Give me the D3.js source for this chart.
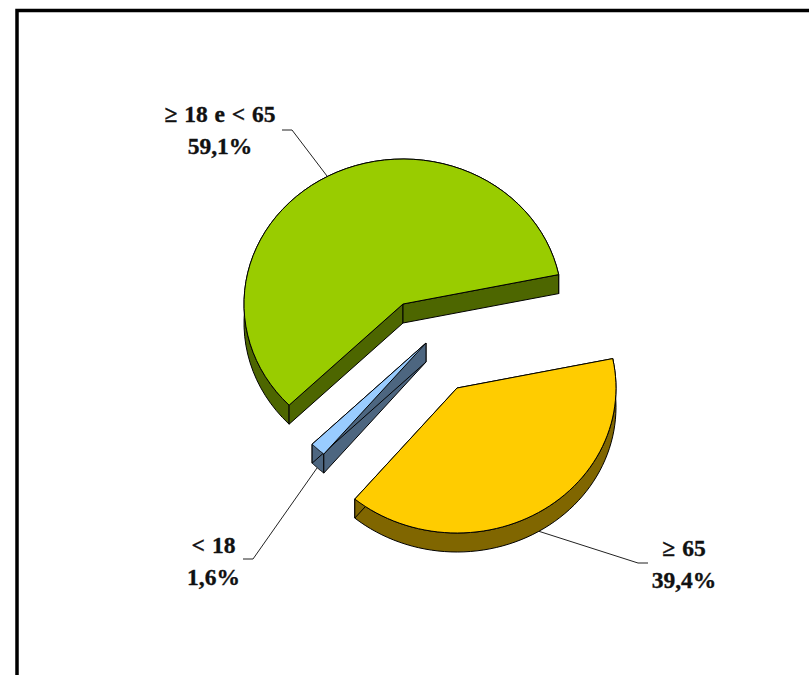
<!DOCTYPE html>
<html><head><meta charset="utf-8">
<script src="https://cdn.jsdelivr.net/npm/d3@7"></script>
<style>html,body{margin:0;padding:0;background:#fff;overflow:hidden}svg{display:block}
text{font-family:"Liberation Serif",serif;font-weight:bold;font-size:23.5px;fill:#111;stroke:#111;stroke-width:.35px;word-spacing:1px}</style>
</head><body><svg id="c" width="809" height="675"></svg>
<script>
const categories = ["≥ 18 e < 65", "≥ 65", "< 18"];
const percentLabels = ["59,1%", "39,4%", "1,6%"];
const values = [59.1, 39.4, 1.6];
const topColors = ["#99cc00", "#ffcc00", "#99ccff"];
const wallColors = ["#4d6600", "#806600", "#4d6680"];
const offsetX = [0, 54, 23];
const offsetY = [0, 84, 39];
const labelX = [220, 684, 213.5];
const labelY = [122, 556, 553];
const leaders = [
  [[282,130],[292,130],[327,176]],
  [[538,531],[638,563],[648,563]],
  [[317,468],[253,559],[243,559]]
];

const W = 809, H = 675, cx = 403, cy = 304, rx = 159, ry = 145, depth = 19;
const svg = d3.select("#c");
const line = d3.line();

svg.append("path")
  .attr("d", line([[17,675],[17,10.5],[809,10.5]]))
  .attr("fill","none").attr("stroke","#000").attr("stroke-width",3.5);

svg.append("g").selectAll("path").data(leaders).join("path")
  .attr("d", d => line(d)).attr("fill","none").attr("stroke","#222").attr("stroke-width",1);

// the first slice ends at 78.3deg clockwise from the top; the others run on from there
const endDeg = 78.3;
const g0 = (endDeg - values[0]/d3.sum(values)*360) * Math.PI/180;
const arcs = d3.pie().sort(null).value(d => d).startAngle(g0).endAngle(g0 + 2*Math.PI)(values);

const xs = d3.scaleLinear().domain([-1,1]).range([cx-rx, cx+rx]);
const ys = d3.scaleLinear().domain([-1,1]).range([cy+ry, cy-ry]);
const rim = (a0, a1, dx, dy) => d3.range(0, 61).map(i => {
  const a = a0 + (a1-a0)*i/60;
  return [xs(Math.sin(a))+dx, ys(Math.cos(a))+dy];
});
const layer = svg.append("g").attr("stroke","#000").attr("stroke-width",1).attr("stroke-linejoin","round");
values.forEach((v,i) => {
  const s = arcs[i], dx = offsetX[i], dy = offsetY[i];
  const apex = [xs(0)+dx, ys(0)+dy];
  const r = rim(s.startAngle, s.endAngle, dx, dy);
  const down = p => [p[0], p[1]+depth];
  const wall = (a,b) => line([a,b,down(b),down(a)])+"Z";
  layer.append("path").attr("fill",wallColors[i]).attr("d", line(r.concat(r.map(down).reverse()))+"Z");
  layer.append("path").attr("fill",wallColors[i]).attr("d", wall(apex,r[0]));
  layer.append("path").attr("fill",wallColors[i]).attr("d", wall(apex,r[r.length-1]));
  layer.append("path").attr("fill",topColors[i]).attr("d", line([apex].concat(r))+"Z");
});

categories.forEach((c,i) => {
  const t = svg.append("text").attr("text-anchor","middle");
  t.append("tspan").attr("x",labelX[i]).attr("y",labelY[i]).text(c);
  t.append("tspan").attr("x",labelX[i]).attr("y",labelY[i]+32).text(percentLabels[i]);
});
</script></body></html>
